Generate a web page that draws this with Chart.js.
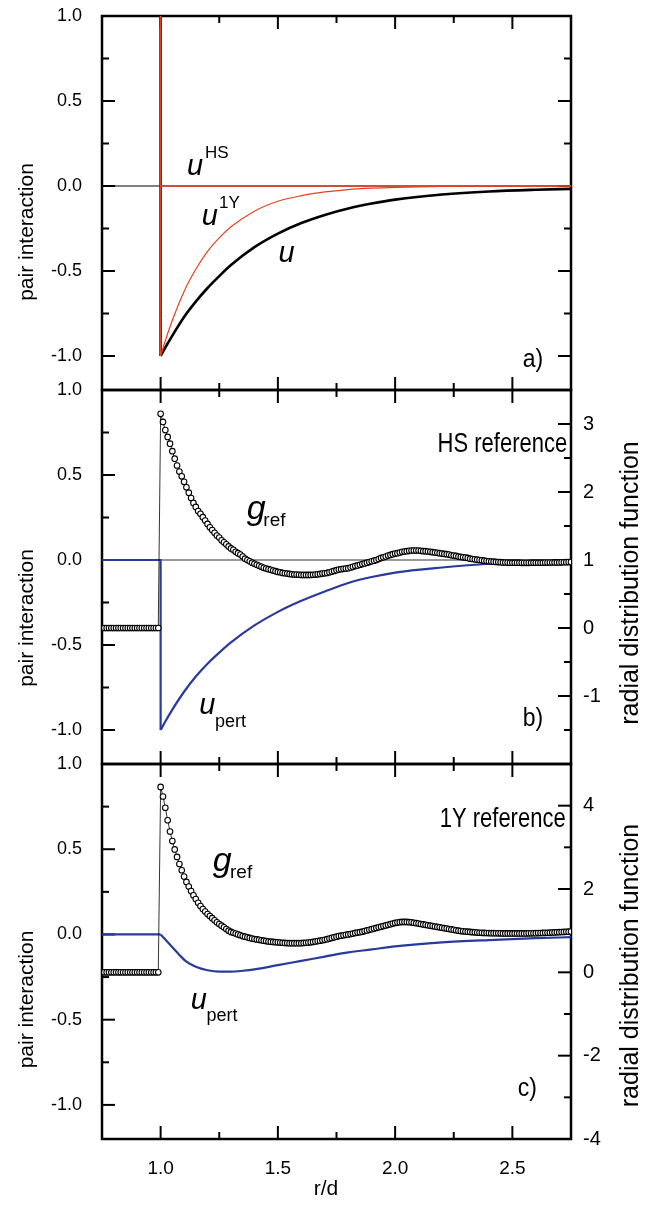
<!DOCTYPE html>
<html>
<head>
<meta charset="utf-8">
<script src="https://cdn.jsdelivr.net/npm/chart.js@4.4.1/dist/chart.umd.min.js"></script>
<style>
body{margin:0;background:#fff;width:665px;height:1212px;position:relative;overflow:hidden}
canvas{position:absolute;left:0}
</style>
</head>
<body>
<canvas id="chartA" width="665" height="404" style="top:1px"></canvas>
<canvas id="chartB" width="665" height="404" style="top:375px"></canvas>
<canvas id="chartC" width="665" height="463" style="top:749px"></canvas>
<script>

// g(r) sampled every 0.01 from r/d = 0.75
const rStart=0.75
const rStep=0.01

const gHS=[
0,0,0,0,0,0,0,0,0,0,0,0,0,0,0,0,0,0,0,0,0,0,0,0,0,
3.15,3.03,2.91,2.81,2.71,2.60,2.49,2.39,2.30,2.23,
2.15,2.07,1.99,1.91,1.84,1.78,1.72,1.68,1.63,1.58,
1.53,1.48,1.44,1.40,1.36,1.33,1.29,1.26,1.23,1.20,
1.17,1.15,1.12,1.10,1.08,1.05,1.02,1.00,0.98,0.96,
0.945,0.93,0.915,0.90,0.885,0.875,0.865,0.855,0.845,0.835,
0.825,0.82,0.81,0.805,0.80,0.795,0.79,0.787,0.785,0.783,
0.781,0.78,0.78,0.78,0.781,0.783,0.786,0.79,0.795,0.80,
0.805,0.81,0.82,0.83,0.84,0.85,0.86,0.865,0.87,0.875,
0.88,0.89,0.90,0.91,0.92,0.93,0.94,0.95,0.96,0.97,
0.98,0.99,1.00,1.015,1.03,1.04,1.05,1.065,1.075,1.085,
1.095,1.10,1.11,1.12,1.125,1.13,1.135,1.14,1.14,1.14,
1.14,1.135,1.13,1.13,1.125,1.12,1.115,1.11,1.105,1.10,
1.095,1.09,1.085,1.08,1.07,1.065,1.06,1.05,1.045,1.04,
1.035,1.03,1.02,1.015,1.01,1.005,1.00,0.995,0.99,0.985,
0.98,0.978,0.975,0.972,0.97,0.968,0.965,0.963,0.962,0.961,
0.96,0.96,0.96,0.96,0.959,0.959,0.959,0.959,0.96,0.96,
0.96,0.96,0.961,0.961,0.962,0.962,0.963,0.963,0.964,0.964,
0.965,0.966,0.967,0.968,0.969,0.97]

const g1Y=[
0,0,0,0,0,0,0,0,0,0,0,0,0,0,0,0,0,0,0,0,0,0,0,0,0,
4.45,4.22,3.95,3.65,3.38,3.15,2.95,2.77,2.60,2.45,
2.30,2.17,2.06,1.95,1.85,1.76,1.67,1.59,1.52,1.46,
1.40,1.35,1.30,1.25,1.20,1.16,1.12,1.08,1.04,1.00,
0.97,0.95,0.93,0.91,0.89,0.87,0.855,0.84,0.825,0.81,
0.80,0.79,0.78,0.77,0.76,0.75,0.74,0.735,0.73,0.725,
0.72,0.715,0.71,0.705,0.703,0.70,0.70,0.70,0.70,0.70,
0.70,0.705,0.71,0.715,0.72,0.73,0.74,0.75,0.76,0.77,
0.78,0.795,0.81,0.825,0.84,0.855,0.87,0.88,0.89,0.90,
0.91,0.92,0.93,0.945,0.955,0.965,0.975,0.99,1.005,1.02,
1.035,1.05,1.065,1.08,1.095,1.11,1.125,1.14,1.155,1.17,
1.185,1.195,1.205,1.21,1.21,1.21,1.205,1.20,1.19,1.18,
1.17,1.16,1.15,1.14,1.13,1.12,1.11,1.10,1.09,1.08,
1.07,1.06,1.05,1.04,1.03,1.02,1.01,1.00,0.99,0.985,
0.98,0.975,0.97,0.965,0.96,0.955,0.95,0.948,0.946,0.944,
0.942,0.94,0.94,0.938,0.937,0.936,0.935,0.934,0.934,0.933,
0.933,0.933,0.933,0.933,0.934,0.934,0.935,0.936,0.937,0.938,
0.94,0.942,0.944,0.946,0.948,0.95,0.953,0.956,0.959,0.962,
0.965,0.968,0.971,0.974,0.977,0.98]

// potentials
const rU=[1.0,1.02,1.05,1.1,1.15,1.2,1.25,1.3,1.4,1.5,1.6,1.7,1.8,1.9,2.0,2.2,2.4,2.6,2.75]
const uTotal=[-1.0,-0.95,-0.88,-0.77,-0.68,-0.6,-0.53,-0.465,-0.36,-0.28,-0.218,-0.17,-0.132,-0.103,-0.08,-0.05,-0.032,-0.022,-0.017]
const u1Y=[-1.0,-0.91,-0.79,-0.62,-0.49,-0.385,-0.305,-0.24,-0.148,-0.09,-0.057,-0.035,-0.021,-0.013,-0.008,-0.003,-0.001,0,0]
const uPertHS=[-1.0,-0.95,-0.88,-0.775,-0.685,-0.61,-0.545,-0.485,-0.385,-0.305,-0.24,-0.185,-0.135,-0.1,-0.074,-0.044,-0.022,-0.012,-0.008]
const rP=[1.0,1.02,1.05,1.08,1.11,1.15,1.2,1.25,1.3,1.35,1.4,1.5,1.6,1.7,1.8,1.9,2.0,2.2,2.4,2.6,2.75]
const uPert1Y=[0,-0.03,-0.075,-0.12,-0.16,-0.19,-0.21,-0.218,-0.218,-0.213,-0.205,-0.18,-0.155,-0.13,-0.105,-0.088,-0.07,-0.047,-0.033,-0.022,-0.016]

const xTicks=[1.0,1.5,2.0,2.5]
const xMinor=[1.25,1.75,2.25]
const uTicks=[1.0,0.5,0.0,-0.5,-1.0]
const uMinor=[0.75,0.25,-0.25,-0.75]
const gTicksB=[3,2,1,0,-1]
const gMinorB=[3.5,2.5,1.5,0.5,-0.5,-1.5]
const gTicksC=[4,2,0,-2,-4]
const gMinorC=[3,1,-1,-3]


const FONT='"Liberation Sans", Arial, Helvetica, sans-serif'
const RED='#e8401c'
const BLUE='#2a3a9c'

Chart.defaults.font.family=FONT
Chart.defaults.color='#000'

function pts(xs,ys){
return xs.map((x,i)=>({x:x,y:ys[i]}))
}

function gPts(vals){
return vals.map((v,i)=>({x:+(rStart+i*rStep).toFixed(2),y:v}))
}

function lineSet(data,color,width,extra){
return Object.assign({data:data,showLine:true,borderColor:color,borderWidth:width,pointRadius:0,tension:0,fill:false},extra||{})
}

function gSet(vals,axis){
return {data:gPts(vals),yAxisID:axis,showLine:true,borderColor:'#000',borderWidth:0.8,tension:0,
pointRadius:2.8,pointBackgroundColor:'#fff',pointBorderColor:'#000',pointBorderWidth:1.1,order:0}
}


// frame and inward tick marks
const frameTicks={
id:'frameTicks',
beforeDatasetsDraw(chart,args,o){
const ctx=chart.ctx
const a=chart.chartArea
ctx.save()
ctx.strokeStyle='#000'
ctx.lineWidth=2
;(o.marks||[]).forEach(m=>{
const sc=chart.scales[m.axis]
const draw=(v,len)=>{
const p=sc.getPixelForValue(v)
ctx.beginPath()
if(m.side==='top'){ctx.moveTo(p,a.top);ctx.lineTo(p,a.top+len)}
if(m.side==='bottom'){ctx.moveTo(p,a.bottom);ctx.lineTo(p,a.bottom-len)}
if(m.side==='left'){ctx.moveTo(a.left,p);ctx.lineTo(a.left+len,p)}
if(m.side==='right'){ctx.moveTo(a.right,p);ctx.lineTo(a.right-len,p)}
ctx.stroke()
}
m.major.forEach(v=>draw(v,13))
m.minor.forEach(v=>draw(v,7))
})
ctx.lineWidth=2.5
ctx.strokeRect(a.left,a.top,a.right-a.left,a.bottom-a.top)
ctx.restore()
}
}


// in-plot labels and axis titles
const textLayer={
id:'textLayer',
afterDatasetsDraw(chart,args,o){
const ctx=chart.ctx
const a=chart.chartArea
const sx=chart.scales.x
const sy=chart.scales.y
ctx.save()
ctx.fillStyle='#000'
ctx.textAlign='left'
ctx.textBaseline='alphabetic'
;(o.items||[]).forEach(it=>{
ctx.save()
ctx.translate(sx.getPixelForValue(it.r),sy.getPixelForValue(it.v))
ctx.scale(1,it.k||1)
ctx.font=(it.italic?'italic ':'')+it.size+'px '+FONT
ctx.fillText(it.text,0,0)
ctx.restore()
})
ctx.textAlign='center'
ctx.textBaseline='middle'
if(o.left){
ctx.save()
ctx.translate(27,(a.top+a.bottom)/2+o.left.shift)
ctx.rotate(-Math.PI/2)
ctx.font=o.left.size+'px '+FONT
ctx.fillText('pair interaction',0,0)
ctx.restore()
}
if(o.right){
ctx.save()
ctx.translate(631,(a.top+a.bottom)/2+o.right.shift)
ctx.rotate(-Math.PI/2)
ctx.font=o.right.size+'px '+FONT
ctx.fillText('radial distribution function',0,0)
ctx.restore()
}
if(o.bottom){
ctx.font=o.bottom.size+'px '+FONT
ctx.fillText('r/d',o.bottom.x,a.bottom+o.bottom.dy)
}
ctx.restore()
}
}


function xScale(show){
const s={type:'linear',min:0.75,max:2.75,display:show,position:'bottom',
grid:{display:false,drawTicks:true,tickLength:18},border:{display:false},
afterBuildTicks:s=>{s.ticks=xTicks.map(v=>({value:v}))},
ticks:{autoSkip:false,maxRotation:0,padding:0,color:'#000',font:{size:19},callback:v=>v.toFixed(1)}}
if(show) s.afterFit=sc=>{sc.height=73}
return s
}

function uScale(){
return {type:'linear',position:'left',min:-1.2,max:1.0,
grid:{display:false,drawTicks:true,tickLength:20},border:{display:false},
afterBuildTicks:s=>{s.ticks=uTicks.map(v=>({value:v}))},
afterFit:s=>{s.width=102},
ticks:{autoSkip:false,padding:0,color:'#000',font:{size:18},callback:v=>v.toFixed(1)}}
}

function gScale(min,max,ticks,show){
return {type:'linear',position:'right',min:min,max:max,
grid:{display:false,drawTicks:true,tickLength:12},border:{display:false},
afterBuildTicks:s=>{s.ticks=ticks.map(v=>({value:v}))},
afterFit:s=>{s.width=94},
ticks:{display:show,autoSkip:false,padding:0,color:'#000',font:{size:20},callback:v=>String(v)}}
}

function makeChart(id,plotTop,datasets,scales,pad,plugOpts){
const cv=document.getElementById(id)
const ch=new Chart(cv,{
type:'scatter',
data:{datasets:datasets},
options:{
responsive:false,
animation:false,
events:[],
layout:{padding:pad},
scales:scales,
plugins:{legend:{display:false},tooltip:{enabled:false},frameTicks:plugOpts.frame,textLayer:plugOpts.text}
},
plugins:[frameTicks,textLayer]
})
// keep the plot box where the figure has it
cv.style.top=(plotTop-ch.chartArea.top)+'px'
return ch
}

const sideMarks=[
{axis:'x',side:'top',major:xTicks,minor:xMinor},
{axis:'x',side:'bottom',major:xTicks,minor:xMinor},
{axis:'y',side:'left',major:uTicks,minor:uMinor}
]


// a) pair potentials
makeChart('chartA',16,[
lineSet([{x:1.0,y:1.3},{x:1.0,y:-1.0}],RED,1.8,{order:0}),
lineSet([{x:1.0,y:0},{x:2.75,y:0}],RED,1.5,{order:1}),
lineSet(pts(rU,u1Y),RED,1.2,{order:2,cubicInterpolationMode:'monotone'}),
lineSet([{x:1.0,y:1.3},{x:1.0,y:-1.0}],'#000',2.6,{order:3}),
lineSet(pts(rU,uTotal),'#000',2.6,{order:4,cubicInterpolationMode:'monotone'}),
lineSet([{x:0.75,y:0},{x:2.75,y:0}],'#000',1,{order:5})
],{x:xScale(false),y:uScale(),y2:gScale(-1.2,1.0,[],false)},
{top:15,bottom:15,left:0,right:0},
{frame:{marks:sideMarks.concat([{axis:'y',side:'right',major:uTicks,minor:uMinor}])},
text:{items:[
{text:'u',italic:true,size:29,r:1.112,v:0.065},
{text:'HS',size:17,r:1.189,v:0.165},
{text:'u',italic:true,size:29,r:1.175,v:-0.229},
{text:'1Y',size:17,r:1.249,v:-0.131},
{text:'u',italic:true,size:29,r:1.503,v:-0.445},
{text:'a)',size:23,k:1.15,r:2.544,v:-1.065}
],left:{size:21,shift:29}}})


// b) HS reference
makeChart('chartB',390,[
gSet(gHS,'y2'),
lineSet([{x:0.75,y:0},{x:1.0,y:0},{x:1.0,y:-1.0}],BLUE,2.2,{order:1}),
lineSet(pts(rU,uPertHS),BLUE,2.2,{order:2,cubicInterpolationMode:'monotone'}),
lineSet([{x:1.0,y:0},{x:2.75,y:0}],'#777',1.5,{order:3})
],{x:xScale(false),y:uScale(),y2:gScale(-2,3.5,gTicksB,true)},
{top:15,bottom:15,left:0,right:0},
{frame:{marks:sideMarks.concat([{axis:'y2',side:'right',major:gTicksB,minor:gMinorB}])},
text:{items:[
{text:'HS reference',size:22,k:1.25,r:2.181,v:0.633},
{text:'g',italic:true,size:34,r:1.367,v:0.24},
{text:'ref',size:19,r:1.438,v:0.201},
{text:'u',italic:true,size:29,r:1.165,v:-0.903},
{text:'pert',size:18,r:1.232,v:-0.981},
{text:'b)',size:23,k:1.15,r:2.544,v:-0.974}
],left:{size:21,shift:41},right:{size:25,shift:6}}})


// c) 1Y reference
makeChart('chartC',764,[
gSet(g1Y,'y2'),
lineSet([{x:0.75,y:0},{x:1.0,y:0}],BLUE,2.2,{order:1}),
lineSet(pts(rP,uPert1Y),BLUE,2.2,{order:2,cubicInterpolationMode:'monotone'})
],{x:xScale(true),y:uScale(),y2:gScale(-4,5,gTicksC,true)},
{top:15,bottom:0,left:0,right:0},
{frame:{marks:sideMarks.concat([{axis:'y2',side:'right',major:gTicksC,minor:gMinorC}])},
text:{items:[
{text:'1Y reference',size:22,k:1.25,r:2.19,v:0.632},
{text:'g',italic:true,size:34,r:1.222,v:0.37},
{text:'ref',size:19,r:1.296,v:0.332},
{text:'u',italic:true,size:29,r:1.128,v:-0.439},
{text:'pert',size:18,r:1.196,v:-0.509},
{text:'c)',size:23,k:1.15,r:2.523,v:-0.947}
],left:{size:21,shift:48},right:{size:25,shift:14},bottom:{size:21,x:326,dy:50}}})

</script>
</body>
</html>
